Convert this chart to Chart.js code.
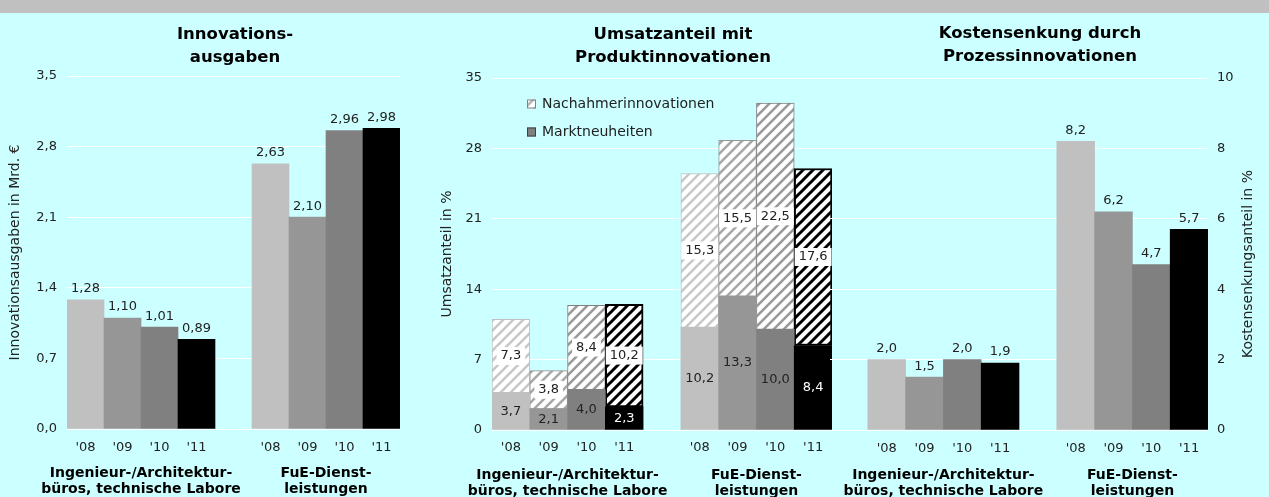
<!DOCTYPE html>
<html lang="de">
<head>
<meta charset="UTF-8">
<title>Innovationsindikatoren</title>
<script src="https://cdn.jsdelivr.net/npm/chart.js"></script>
<style>
  html, body { margin: 0; padding: 0; }
  body { width: 1269px; height: 497px; background: #ccffff; position: relative; overflow: hidden; }
  .band { position: absolute; left: 0; top: 0; width: 1269px; height: 13px; background: #c0c0c0; }
  canvas { position: absolute; top: 13px; }
</style>
</head>
<body>
<div class="band"></div>
<canvas id="c1" width="430" height="484" style="left:0"></canvas>
<canvas id="c2" width="410" height="484" style="left:430px"></canvas>
<canvas id="c3" width="449" height="484" style="left:820px"></canvas>
<script>
const years = ["'08", "'09", "'10", "'11"];
const groups = [["Ingenieur-/Architektur-", "büros, technische Labore"], ["FuE-Dienst-", "leistungen"]];
const yearColors = ['#c0c0c0', '#969696', '#808080', '#000000'];
const stripeColors = ['#c8c8c8', '#a8a8a8', '#9a9a9a', '#000000'];

// Innovationsausgaben in Mrd. €
const ausgabenIng = [1.28, 1.10, 1.01, 0.89];
const ausgabenFue = [2.63, 2.10, 2.96, 2.98];
// Umsatzanteil mit Produktinnovationen in %
const marktIng = [3.7, 2.1, 4.0, 2.3];
const marktFue = [10.2, 13.3, 10.0, 8.4];
const nachahmerIng = [7.3, 3.8, 8.4, 10.2];
const nachahmerFue = [15.3, 15.5, 22.5, 17.6];
// Kostensenkung durch Prozessinnovationen in %
const kostenIng = [2.0, 1.5, 2.0, 1.9];
const kostenFue = [8.2, 6.2, 4.7, 5.7];

Chart.defaults.font.family = '"DejaVu Sans", sans-serif';
Chart.defaults.font.size = 13;
Chart.defaults.color = '#222';

// two groups of four bars with an empty slot between (and optionally one in front)
function slots(lead, a, b, gap) {
  return [...(lead ? [gap] : []), ...a, gap, ...b];
}

function hatch(color) {
  const s = 10;
  const c = document.createElement('canvas');
  c.width = s; c.height = s;
  const g = c.getContext('2d');
  g.fillStyle = '#fff';
  g.fillRect(0, 0, s, s);
  g.strokeStyle = color;
  g.lineWidth = color === '#000000' ? 3 : 2.6;
  g.beginPath();
  g.moveTo(0, s); g.lineTo(s, 0);
  g.moveTo(-s / 2, s / 2); g.lineTo(s / 2, -s / 2);
  g.moveTo(s / 2, s * 1.5); g.lineTo(s * 1.5, s / 2);
  g.stroke();
  return g.createPattern(c, 'repeat');
}

const fmt = (v, d) => v.toFixed(d).replace('.', ',');

// value labels on / above the bars
const valueLabels = {
  id: 'valueLabels',
  afterDatasetsDraw(chart) {
    const ctx = chart.ctx;
    chart.data.datasets.forEach((ds, di) => {
      const opt = ds.valueLabels;
      if (!opt) return;
      chart.getDatasetMeta(di).data.forEach((bar, i) => {
        const v = ds.data[i];
        if (v == null) return;
        const text = fmt(v, opt.digits);
        ctx.save();
        ctx.font = '13px "DejaVu Sans"';
        ctx.textAlign = 'center';
        ctx.textBaseline = 'middle';
        const y = opt.pos === 'above' ? bar.y - 11 : (bar.y + bar.base) / 2;
        if (opt.box) {
          const w = ctx.measureText(text).width + 8;
          ctx.fillStyle = '#fff';
          ctx.fillRect(bar.x - w / 2, y - 9, w, 18);
        }
        ctx.fillStyle = opt.colors ? opt.colors[i] : '#222';
        ctx.fillText(text, bar.x, y);
        ctx.restore();
      });
    });
  }
};

// panel title, legend and right-hand axis title
const panelText = {
  id: 'panelText',
  afterDraw(chart, args, opts) {
    const ctx = chart.ctx;
    ctx.save();
    ctx.textAlign = 'center';
    ctx.textBaseline = 'middle';
    ctx.fillStyle = '#000';
    ctx.font = 'bold 16.5px "DejaVu Sans"';
    opts.title.forEach((line, i) => ctx.fillText(line, opts.x, opts.y + i * 23));
    if (opts.legend) {
      ctx.textAlign = 'left';
      ctx.font = '14px "DejaVu Sans"';
      opts.legend.items.forEach((it, i) => {
        const ly = opts.legend.y + i * 28;
        ctx.fillStyle = it.fill;
        ctx.fillRect(opts.legend.x, ly - 4.5, 9, 9);
        ctx.strokeStyle = it.stroke;
        ctx.lineWidth = 1;
        ctx.strokeRect(opts.legend.x + 0.5, ly - 4, 8, 8);
        ctx.fillStyle = '#222';
        ctx.fillText(it.text, opts.legend.x + 15, ly);
      });
    }
    if (opts.side) {
      ctx.translate(opts.side.x, opts.side.y);
      ctx.rotate(-Math.PI / 2);
      ctx.textAlign = 'center';
      ctx.font = '14px "DejaVu Sans"';
      ctx.fillStyle = '#222';
      ctx.fillText(opts.side.text, 0, 0);
    }
    ctx.restore();
  }
};

function xScales(lead, stacked, yearPad, groupPad, groupH) {
  const n = lead + 9;
  return {
    x: {
      type: 'category', position: 'bottom', weight: 0, stacked,
      grid: { display: false, drawTicks: false }, border: { display: false },
      ticks: { padding: yearPad, autoSkip: false, maxRotation: 0 },
      afterFit: s => { s.height = 30; }
    },
    x2: {
      type: 'linear', position: 'bottom', weight: 1, bounds: 'data', offset: false,
      min: -0.5, max: n - 0.5,
      grid: { display: false, drawTicks: false }, border: { display: false },
      afterBuildTicks: s => { s.ticks = [{ value: lead + 1.5 }, { value: lead + 6.5 }]; },
      ticks: {
        autoSkip: false, maxRotation: 0, padding: groupPad, color: '#000',
        font: { weight: 'bold', size: 14, lineHeight: 1.15 },
        callback: (v, i) => groups[i]
      },
      afterFit: s => { s.height = groupH; }
    }
  };
}

function yScale(min, max, step, digits, pos, width, pad, title, titlePad, stacked) {
  return {
    min, max, position: pos, stacked,
    grid: { color: '#ffffff', drawTicks: false }, border: { display: false },
    ticks: { stepSize: step, padding: pad, callback: v => fmt(v, digits) },
    title: { display: !!title, text: title, font: { size: 14 }, padding: { top: titlePad, bottom: 0 } },
    afterFit: s => { s.width = width; }
  };
}

const basePlugins = { legend: { display: false }, tooltip: { enabled: false } };

// Panel 1: Innovationsausgaben
new Chart(document.getElementById('c1'), {
  type: 'bar',
  data: {
    labels: slots(0, years, years, ''),
    datasets: [{
      data: slots(0, ausgabenIng, ausgabenFue, null),
      backgroundColor: slots(0, yearColors, yearColors, 'transparent'),
      borderWidth: 0, barPercentage: 1, categoryPercentage: 1,
      valueLabels: { pos: 'above', digits: 2 }
    }]
  },
  options: {
    responsive: false, animation: false, events: [],
    layout: { padding: { top: 63, right: 30, left: 0, bottom: 0 } },
    scales: {
      ...xScales(0, false, 11, 6, 38),
      y: yScale(0, 3.5, 0.7, 1, 'left', 67, 10, 'Innovationsausgaben in Mrd. €', 6.5, false)
    },
    plugins: { ...basePlugins, panelText: { title: ['Innovations-', 'ausgaben'], x: 235, y: 22 } }
  },
  plugins: [valueLabels, panelText]
});

// Panel 2: Umsatzanteil mit Produktinnovationen
const hatchColors = stripeColors.map(hatch);
new Chart(document.getElementById('c2'), {
  type: 'bar',
  data: {
    labels: slots(0, years, years, ''),
    datasets: [{
      label: 'Marktneuheiten',
      data: slots(0, marktIng, marktFue, null),
      backgroundColor: slots(0, yearColors, yearColors, 'transparent'),
      borderWidth: 0, barPercentage: 1, categoryPercentage: 1,
      valueLabels: { pos: 'center', digits: 1, colors: slots(0, ['#222', '#222', '#222', '#fff'], ['#222', '#222', '#222', '#fff'], '#222') }
    }, {
      label: 'Nachahmerinnovationen',
      data: slots(0, nachahmerIng, nachahmerFue, null),
      backgroundColor: slots(0, hatchColors, hatchColors, 'transparent'),
      borderColor: slots(0, yearColors, yearColors, 'transparent'),
      borderWidth: slots(0, [1, 1, 1, 2], [1, 1, 1, 2], 0),
      borderSkipped: false, barPercentage: 1, categoryPercentage: 1,
      valueLabels: { pos: 'center', digits: 1, box: true }
    }]
  },
  options: {
    responsive: false, animation: false, events: [],
    layout: { padding: { top: 65, right: 8, left: 0, bottom: 0 } },
    scales: {
      ...xScales(0, true, 10, 7, 37),
      y: yScale(0, 35, 7, 0, 'left', 62, 10, 'Umsatzanteil in %', 8.5, true)
    },
    plugins: {
      ...basePlugins,
      panelText: {
        title: ['Umsatzanteil mit', 'Produktinnovationen'], x: 243, y: 22,
        legend: {
          x: 97, y: 91,
          items: [
            { text: 'Nachahmerinnovationen', fill: hatch('#b8b8b8'), stroke: '#808080' },
            { text: 'Marktneuheiten', fill: '#808080', stroke: '#404040' }
          ]
        }
      }
    }
  },
  plugins: [valueLabels, panelText]
});

// Panel 3: Kostensenkung durch Prozessinnovationen
new Chart(document.getElementById('c3'), {
  type: 'bar',
  data: {
    labels: slots(1, years, years, ''),
    datasets: [{
      data: slots(1, kostenIng, kostenFue, null),
      backgroundColor: slots(1, yearColors, yearColors, 'transparent'),
      borderWidth: 0, barPercentage: 1, categoryPercentage: 1,
      valueLabels: { pos: 'above', digits: 1 }
    }]
  },
  options: {
    responsive: false, animation: false, events: [],
    layout: { padding: { top: 65, right: 0, left: 10, bottom: 0 } },
    scales: {
      ...xScales(1, false, 11, 7, 37),
      y: yScale(0, 10, 2, 0, 'right', 61, 9, '', 0, false)
    },
    plugins: {
      ...basePlugins,
      panelText: {
        title: ['Kostensenkung durch', 'Prozessinnovationen'], x: 220, y: 21,
        side: { text: 'Kostensenkungsanteil in %', x: 428, y: 251 }
      }
    }
  },
  plugins: [valueLabels, panelText]
});
</script>
</body>
</html>
